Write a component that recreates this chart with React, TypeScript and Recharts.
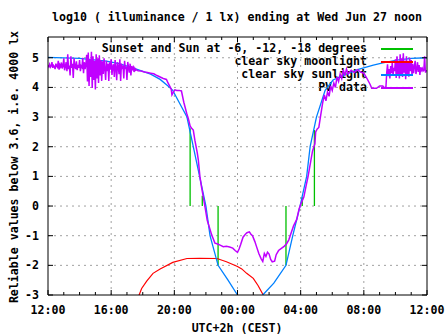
import { LineChart, Line, XAxis, YAxis, ReferenceLine } from "recharts"

const FONT = "'DejaVu Sans Mono', 'Liberation Mono', monospace"

// x = hours after 12:00 noon, y = log10(lx)
const hourTicks = [0, 1, 2, 3, 4, 5, 6, 7, 8, 9, 10, 11, 12, 13, 14, 15, 16, 17, 18, 19, 20, 21, 22, 23, 24]
const gridHours = [4, 8, 12, 16, 20]
const yTicks = [-3, -2, -1, 0, 1, 2, 3, 4, 5]
const gridLevels = [-2, -1, 0, 1, 2, 3, 4, 5]

const sunHours = [0, 2, 3.7, 4.5, 5.6, 6.5, 7.1, 7.6, 7.9, 8.3, 8.8, 9.2, 9.6, 10.0, 10.26, 10.77, 11.4, 12.0, 12.5, 13.1, 13.6, 14.3, 15.07, 15.5, 15.96, 16.38, 16.6, 17.0, 17.55, 18.05, 18.5, 19.0, 19.6, 20.6, 21.2, 22.1, 23.0, 24]
const sunLog = [5.01, 4.98, 4.89, 4.8, 4.62, 4.45, 4.27, 4.05, 3.9, 3.5, 3.0, 2.0, 1.0, 0.0, -1.0, -2.0, -2.5, -3.0, -3.4, -3.4, -3.0, -2.6, -2.0, -1.0, 0.0, 1.0, 2.0, 3.0, 3.9, 4.25, 4.36, 4.47, 4.6, 4.75, 4.83, 4.92, 4.98, 5.0]

const moonHours = [5.6, 5.77, 5.93, 6.25, 6.65, 7.1, 7.9, 8.8, 9.6, 10.7, 11.3, 12.0, 12.27, 12.58, 13.0, 13.3, 13.63, 13.8]
const moonLog = [-3.3, -3.0, -2.78, -2.53, -2.27, -2.12, -1.9, -1.77, -1.76, -1.77, -1.88, -2.04, -2.12, -2.27, -2.44, -2.68, -3.0, -3.3]

const sunsetHours = [9.0, 9.77, 10.77, 15.07, 16.1, 16.87]
const sunsetTops = [2.62, 0.35, -2, -2, 0.3, 2.56]

// PV sensor: noisy afternoon block sampled every 0.05 h from 12:00
const pvNoonStart = 0
const pvNoonLog = [
  4.75, 4.7, 4.78, 4.68, 4.72, 4.85, 4.66, 4.74, 4.7, 4.62, 4.8, 4.72, 4.68, 4.9, 4.6, 4.76, 4.7, 4.84, 4.64, 4.72, 4.98, 4.58, 4.7,
  4.85, 4.55, 5.12, 4.62, 4.74, 4.4, 5.05, 4.66, 4.8, 4.32, 4.98, 4.7, 4.62, 4.88, 4.58, 4.76, 4.66, 4.92, 4.55, 4.72, 4.68, 5.0, 4.48, 4.85, 4.62, 4.78,
  5.1, 4.2, 5.18, 4.05, 4.95, 4.35, 5.2, 3.98, 5.05, 4.25, 4.9, 3.93, 5.12, 4.3, 4.98, 4.15, 5.08, 4.4, 4.92, 4.22,
  4.88, 4.45, 4.98, 4.62, 4.25, 4.9, 4.55, 4.8, 4.22, 4.85, 4.6, 4.95, 4.42, 4.7,
  4.78, 4.35, 4.92, 4.66, 4.24, 4.85, 4.7, 4.45, 4.95, 4.22, 4.8, 4.68, 4.74, 4.3, 4.9, 4.62, 4.7, 4.25, 4.86, 4.66, 4.5, 4.8, 4.4, 4.72, 4.62, 4.68, 4.52, 4.64, 4.58, 4.6,
]
const pvEveHours = [
  5.7, 5.9, 6.1, 6.3, 6.5, 6.7, 6.9, 7.1, 7.3, 7.5, 7.6, 7.7, 7.8, 7.85, 7.95, 8.05, 8.15, 8.3, 8.45, 8.6,
  8.78, 8.88, 9.0, 9.08, 9.2, 9.3, 9.45, 9.52, 9.62, 9.72, 9.94, 10.08, 10.15, 10.37, 10.57,
  10.7, 10.9, 11.1, 11.3, 11.5, 11.7, 11.85, 12.0, 12.1, 12.2, 12.35, 12.5, 12.6, 12.75, 12.85, 12.95,
  13.1, 13.2, 13.35, 13.5, 13.6, 13.7, 13.8, 13.9, 14.0, 14.1, 14.2, 14.35, 14.45, 14.6, 14.8, 14.95,
  15.1, 15.25, 15.4, 15.55, 15.75, 15.9, 16.0, 16.2, 16.35, 16.47, 16.6, 16.75, 16.9, 16.95, 17.05, 17.15, 17.25,
  17.4, 17.5, 17.6, 17.7, 17.8, 17.9, 18.0, 18.1, 18.2, 18.3, 18.4, 18.5, 18.6, 18.7, 18.8, 18.9, 19.0,
  19.2, 19.4, 19.6, 19.8, 20.0, 20.2, 20.4, 20.5, 20.8, 21.0, 21.2, 21.3, 21.4,
]
const pvEveLog = [
  4.56, 4.55, 4.52, 4.5, 4.48, 4.46, 4.4, 4.35, 4.3, 4.27, 4.15, 4.05, 3.95, 3.75, 3.85, 3.92, 3.9, 3.9, 3.88, 3.5,
  3.13, 2.96, 2.7, 2.63, 2.56, 2.22, 1.8, 1.55, 0.99, 0.65, -0.02, -0.47, -0.6, -0.98, -1.25,
  -1.27, -1.32, -1.37, -1.36, -1.38, -1.42, -1.5, -1.56, -1.45, -1.3, -1.05, -0.95, -0.9, -0.87, -0.95, -1.0,
  -1.2, -1.36, -1.6, -1.78, -1.87, -1.6, -1.7, -1.56, -1.62, -1.8, -1.88, -1.86, -1.64, -1.5, -1.42, -1.36,
  -1.28, -1.14, -0.9, -0.67, -0.45, -0.1, 0.05, 0.3, 0.7, 1.0, 1.4, 1.85, 2.1, 2.5, 2.6, 2.65, 3.0,
  3.5, 3.75, 3.55, 3.85, 3.7, 4.05, 3.9, 4.15, 4.0, 4.35, 4.2, 4.45, 4.3, 4.6, 4.4, 4.62, 4.45,
  4.58, 4.5, 4.6, 4.52, 4.48, 4.3, 4.1, 3.97, 3.97, 4.05, 4.05, 3.98, 4.02,
]
// noisy morning block sampled every 0.05 h from 09:27
const pvMornStart = 21.45
const pvMornLog = [
  4.5, 4.78, 4.38, 4.62, 4.3, 4.72, 4.48, 4.85, 4.4, 4.66, 4.55,
  4.95, 4.32, 5.05, 4.45, 4.88, 4.3, 5.12, 4.4, 4.98, 4.35, 5.15, 4.5, 4.9, 4.28, 5.05, 4.42, 4.82, 4.36, 5.0, 4.55, 4.92, 4.4,
  4.8, 4.48, 4.7, 4.9, 4.45, 4.62, 4.85, 4.52, 4.75, 4.42, 4.68, 4.58, 4.64,
  4.55, 4.58, 5.05, 4.5, 4.56, 4.55,
]

const sunData = sunHours.map((h, i) => ({ h, v: sunLog[i] }))
const moonData = moonHours.map((h, i) => ({ h, v: moonLog[i] }))
const sunsetData = sunsetHours.flatMap((h, i) => [
  { h, v: 0 },
  { h, v: sunsetTops[i] },
  { h, v: null },
])
const pvData = [
  ...pvNoonLog.map((v, i) => ({ h: pvNoonStart + i * 0.05, v })),
  ...pvEveHours.map((h, i) => ({ h, v: pvEveLog[i] })),
  ...pvMornLog.map((v, i) => ({ h: pvMornStart + i * 0.05, v })),
]

const legendRows = [
  { label: "Sunset and Sun at -6, -12, -18 degrees", color: "#00c000" },
  { label: "clear sky moonlight", color: "#ff0000" },
  { label: "clear sky sunlight", color: "#0080ff" },
  { label: "PV data", color: "#c000ff" },
]

const tickFont = { fontFamily: FONT, fontWeight: 700, fontSize: 11.6, fill: "#000" }
const textStyle = { fontFamily: FONT, fontWeight: 700, fontSize: 11.6, color: "#000", whiteSpace: "nowrap" as const }

const hourLabel = (h: number) => `${String((12 + h) % 24).padStart(2, "0")}:00`

const BottomTick = (p: any) => {
  const major = p.payload.value % 4 === 0
  return (
    <g>
      <line x1={p.x} x2={p.x} y1={p.y} y2={p.y - (major ? 5 : 3)} stroke="#000" />
      {major && (
        <text x={p.x} y={p.y + 14.5} textAnchor="middle" dominantBaseline="central" {...tickFont}>
          {hourLabel(p.payload.value)}
        </text>
      )}
    </g>
  )
}

const TopTick = (p: any) => {
  const major = p.payload.value % 4 === 0
  return <line x1={p.x} x2={p.x} y1={p.y} y2={p.y + (major ? 5 : 3)} stroke="#000" />
}

const LeftTick = (p: any) => (
  <g>
    <line x1={p.x} x2={p.x + 5} y1={p.y} y2={p.y} stroke="#000" />
    <text x={p.x - 9} y={p.y} textAnchor="end" dominantBaseline="central" {...tickFont}>
      {p.payload.value}
    </text>
  </g>
)

const RightTick = (p: any) => <line x1={p.x} x2={p.x - 5} y1={p.y} y2={p.y} stroke="#000" />

export default function App() {
  return (
    <div style={{ position: "absolute", left: 0, top: 0, width: 447, height: 335, background: "#fff" }}>
      <div style={{ ...textStyle, position: "absolute", left: 237, top: 10, transform: "translateX(-50%)", lineHeight: "14px" }}>
        log10 ( illuminance / 1 lx) ending at Wed Jun 27 noon
      </div>
      <div
        style={{
          ...textStyle,
          position: "absolute",
          left: 13.5,
          top: 166.5,
          lineHeight: "14px",
          transform: "translate(-50%, -50%) rotate(-90deg)",
        }}
      >
        Reliable values below 3.6, i.e. 4000 lx
      </div>
      <div style={{ ...textStyle, position: "absolute", left: 237, top: 321, transform: "translateX(-50%)", lineHeight: "14px" }}>
        UTC+2h (CEST)
      </div>
      {legendRows.map((r, i) => (
        <div key={r.label} style={{ ...textStyle, position: "absolute", left: 0, width: 367, top: 48 + 13 * i - 7, textAlign: "right", lineHeight: "14px" }}>
          {r.label}
        </div>
      ))}
      <div style={{ position: "absolute", left: 0, top: 0 }}>
        <LineChart width={447} height={335} margin={{ top: 27, right: 10, bottom: 10, left: 8 }}>
          <XAxis
            xAxisId="b"
            type="number"
            dataKey="h"
            domain={[0, 24]}
            ticks={hourTicks}
            interval={0}
            height={30}
            tickSize={0}
            tickMargin={0}
            tickLine={false}
            stroke="#000"
            tick={BottomTick}
            allowDataOverflow
          />
          <XAxis
            xAxisId="t"
            orientation="top"
            type="number"
            dataKey="h"
            domain={[0, 24]}
            ticks={hourTicks}
            interval={0}
            height={10}
            tickSize={0}
            tickMargin={0}
            tickLine={false}
            stroke="#000"
            tick={TopTick}
            allowDataOverflow
          />
          <YAxis
            yAxisId="l"
            type="number"
            domain={[-3, 5.7]}
            ticks={yTicks}
            interval={0}
            width={40}
            tickSize={0}
            tickMargin={0}
            tickLine={false}
            stroke="#000"
            tick={LeftTick}
            allowDataOverflow
          />
          <YAxis
            yAxisId="r"
            orientation="right"
            type="number"
            domain={[-3, 5.7]}
            ticks={yTicks}
            interval={0}
            width={10}
            tickSize={0}
            tickMargin={0}
            tickLine={false}
            stroke="#000"
            tick={RightTick}
            allowDataOverflow
          />
          {gridHours.map((h) => (
            <ReferenceLine key={`gx${h}`} xAxisId="b" yAxisId="l" x={h} stroke="#a0a0a0" strokeDasharray="2 4" />
          ))}
          {gridLevels.map((v) => (
            <ReferenceLine key={`gy${v}`} xAxisId="b" yAxisId="l" y={v} stroke="#a0a0a0" strokeDasharray="2 4" />
          ))}
          <Line xAxisId="b" yAxisId="l" data={sunsetData} dataKey="v" stroke="#00c000" strokeWidth={1.3} dot={false} isAnimationActive={false} connectNulls={false} />
          <Line xAxisId="b" yAxisId="l" data={moonData} dataKey="v" stroke="#ff0000" strokeWidth={1.2} dot={false} isAnimationActive={false} />
          <Line xAxisId="b" yAxisId="l" data={sunData} dataKey="v" stroke="#0080ff" strokeWidth={1.3} dot={false} isAnimationActive={false} />
          <Line xAxisId="b" yAxisId="l" data={pvData} dataKey="v" stroke="#c000ff" strokeWidth={1.5} dot={false} isAnimationActive={false} />
        </LineChart>
      </div>
      {legendRows.map((r, i) => (
        <div key={`s${r.label}`} style={{ position: "absolute", left: 381, width: 32, top: 47.5 + 13 * i, height: 2, background: r.color }} />
      ))}
    </div>
  )
}
